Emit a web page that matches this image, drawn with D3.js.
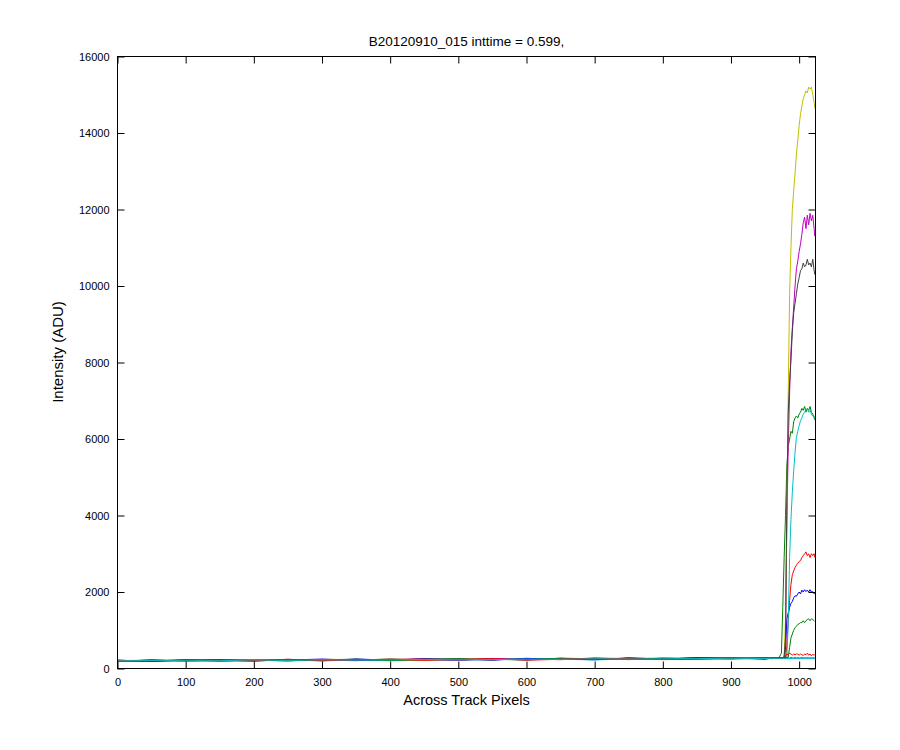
<!DOCTYPE html>
<html>
<head>
<meta charset="utf-8">
<script src="https://cdn.jsdelivr.net/npm/d3@7"></script>
<style>
  html, body { margin: 0; padding: 0; background: #ffffff; }
  svg { display: block; }
  .tick-label { font-family: "Liberation Sans", Arial, sans-serif; font-size: 11px; fill: #000; }
  .label { font-family: "Liberation Sans", Arial, sans-serif; fill: #000; }
</style>
</head>
<body>
<svg id="chart" width="900" height="750"></svg>
<script>
// ---- data ----
const titleText = "B20120910_015 inttime = 0.599,";
const xLabelText = "Across Track Pixels";
const yLabelText = "Intensity (ADU)";
const xTicks = [0, 100, 200, 300, 400, 500, 600, 700, 800, 900, 1000];
const yTicks = [0, 2000, 4000, 6000, 8000, 10000, 12000, 14000, 16000];

// across-track pixel positions at which values were read
const pixelIndex = [0, 50, 100, 150, 200, 250, 300, 350, 400, 450, 500, 550, 600, 650, 700, 750, 800, 850, 900, 950, 960, 970,
  974, 976, 978, 980, 982, 984, 986, 988, 990, 992, 994, 996, 998, 1000, 1002, 1004, 1006, 1008, 1010, 1012, 1014, 1016, 1018, 1020, 1022, 1023];

const blue1 = [190,223,192,235,209,237,201,249,218,246,215,263,237,265,234,277,246,279,258,281,258,275,
  270,275,290,500,1300,1450,1600,1700,1750,1850,1900,1890,1950,2000,1950,2050,2000,2060,2010,2050,2000,2060,2000,2010,1950,1960];
const green1 = [215,193,227,195,224,197,236,219,248,221,250,223,267,235,264,232,266,254,283,256,273,270,
  400,1600,2900,4000,5300,5800,6000,6200,6150,6450,6550,6600,6550,6650,6700,6800,6750,6850,6700,6800,6750,6850,6700,6650,6550,6500];
const red1 = [205,218,197,215,234,212,231,209,233,256,230,248,232,265,249,267,241,284,258,276,283,265,
  270,275,280,290,600,1250,1780,2200,2450,2550,2640,2700,2750,2800,2820,2900,2950,3000,3050,2950,3000,2900,3000,2950,3000,2900];
const cyan1 = [185,203,217,190,204,227,196,229,208,231,220,243,222,255,224,252,236,264,248,266,258,270,
  270,265,275,270,300,1200,2900,3900,4600,5175,5650,6040,6200,6350,6480,6550,6650,6700,6750,6800,6700,6750,6650,6600,6600,6550];
const magenta1 = [200,188,212,220,194,232,221,204,238,236,210,253,247,230,269,247,256,239,273,251,268,275,
  275,280,290,700,3800,5800,7200,8300,8900,9450,10000,10450,10650,10900,11100,11350,11650,11800,11500,11850,11600,11900,11700,11850,11500,11300];
const yellow1 = [210,208,187,210,229,207,241,234,213,211,245,228,257,245,239,262,276,249,243,271,263,270,
  275,280,320,1300,4000,7200,9800,11000,12000,12500,12950,13450,13800,14200,14500,14700,14900,15000,15100,15050,15200,15150,15200,15000,14800,14650];
const black1 = [195,213,207,200,219,217,211,239,228,226,240,238,232,250,259,242,261,269,263,261,273,275,
  275,280,300,800,4500,6700,7500,8050,8800,9300,9550,9800,10050,10220,10400,10450,10600,10500,10550,10700,10550,10600,10500,10700,10400,10300];
const blue2 = [220,183,222,220,199,222,246,214,223,251,245,218,262,240,229,272,251,274,273,246,268,275,
  272,268,275,270,280,275,270,280,275,270,280,272,278,270,275,280,272,276,270,278,274,270,276,272,275,270];
const green2 = [180,223,202,230,214,202,226,244,203,241,255,238,227,270,254,237,271,259,253,286,263,270,
  270,272,268,275,280,300,550,800,900,1000,1070,1100,1150,1170,1200,1200,1250,1200,1250,1280,1300,1250,1300,1280,1250,1230];
const red2 = [210,198,232,205,204,242,206,224,243,216,235,258,217,240,274,257,231,244,278,261,278,275,
  270,280,290,320,380,360,400,380,350,380,360,380,370,350,380,360,340,380,360,400,350,380,330,370,350,360];
const cyan2 = [200,208,202,205,224,212,226,219,223,236,225,233,247,240,254,247,251,259,268,261,268,265,
  262,265,262,260,265,262,258,262,260,262,258,260,262,258,262,260,258,262,260,258,262,260,258,262,260,258];

const seriesValues = [blue1, green1, red1, cyan1, magenta1, yellow1, black1, blue2, green2, red2, cyan2];
const seriesColors = ["#0000ff", "#008000", "#ff0000", "#00bfbf", "#bf00bf", "#bfbf00", "#404040",
                      "#0000ff", "#008000", "#ff0000", "#00bfbf"];

// ---- layout ----
const svg = d3.select("#chart");
const x = d3.scaleLinear().domain([0, 1024]).range([117.5, 815.5]);
const y = d3.scaleLinear().domain([0, 16000]).range([668.5, 56.5]);
const tickLen = 7;

svg.append("rect").attr("x", 0).attr("y", 0).attr("width", 900).attr("height", 750).attr("fill", "#fff");

svg.append("clipPath").attr("id", "plotclip")
  .append("rect").attr("x", x(0)).attr("y", y(16000)).attr("width", x(1024) - x(0)).attr("height", y(0) - y(16000));

const line = d3.line().x(d => x(d[0])).y(d => y(d[1]));
const plot = svg.append("g").attr("clip-path", "url(#plotclip)");
seriesValues.forEach((vals, i) => {
  plot.append("path")
    .datum(pixelIndex.map((p, j) => [p, vals[j]]))
    .attr("fill", "none")
    .attr("stroke", seriesColors[i])
    .attr("stroke-width", 1)
    .attr("d", line);
});

// axes (MATLAB-style inward ticks on all four sides)
const xAxisBottom = d3.axisBottom(x).tickValues(xTicks).tickSizeInner(-tickLen).tickSizeOuter(0).tickPadding(10).tickFormat(d3.format("d"));
const xAxisTop = d3.axisTop(x).tickValues(xTicks).tickSizeInner(-tickLen).tickSizeOuter(0).tickFormat("");
const yAxisLeft = d3.axisLeft(y).tickValues(yTicks).tickSizeInner(-tickLen).tickSizeOuter(0).tickPadding(8).tickFormat(d3.format("d"));
const yAxisRight = d3.axisRight(y).tickValues(yTicks).tickSizeInner(-tickLen).tickSizeOuter(0).tickFormat("");

function style(g) {
  g.select(".domain").remove();
  g.selectAll(".tick line").attr("stroke", "#000").attr("stroke-width", 1);
  g.selectAll(".tick text").attr("class", "tick-label").attr("fill", "#000");
  g.attr("font-family", null).attr("font-size", null);
}
svg.append("g").attr("transform", `translate(0,${y(0)})`).call(xAxisBottom).call(style);
svg.append("g").attr("transform", `translate(0,${y(16000)})`).call(xAxisTop).call(style);
svg.append("g").attr("transform", `translate(${x(0)},0)`).call(yAxisLeft).call(style);
svg.append("g").attr("transform", `translate(${x(1024)},0)`).call(yAxisRight).call(style);

svg.append("rect")
  .attr("x", x(0)).attr("y", y(16000))
  .attr("width", x(1024) - x(0)).attr("height", y(0) - y(16000))
  .attr("fill", "none").attr("stroke", "#000").attr("stroke-width", 1);

const cx = (x(0) + x(1024)) / 2;
svg.append("text").attr("class", "label").attr("font-size", 13.5).attr("x", cx).attr("y", 46).attr("text-anchor", "middle").text(titleText);
svg.append("text").attr("class", "label").attr("font-size", 14.5).attr("x", cx).attr("y", 705).attr("text-anchor", "middle").text(xLabelText);
svg.append("text").attr("class", "label").attr("font-size", 15)
  .attr("transform", `translate(63,352) rotate(-90)`)
  .attr("text-anchor", "middle").text(yLabelText);
</script>
</body>
</html>
